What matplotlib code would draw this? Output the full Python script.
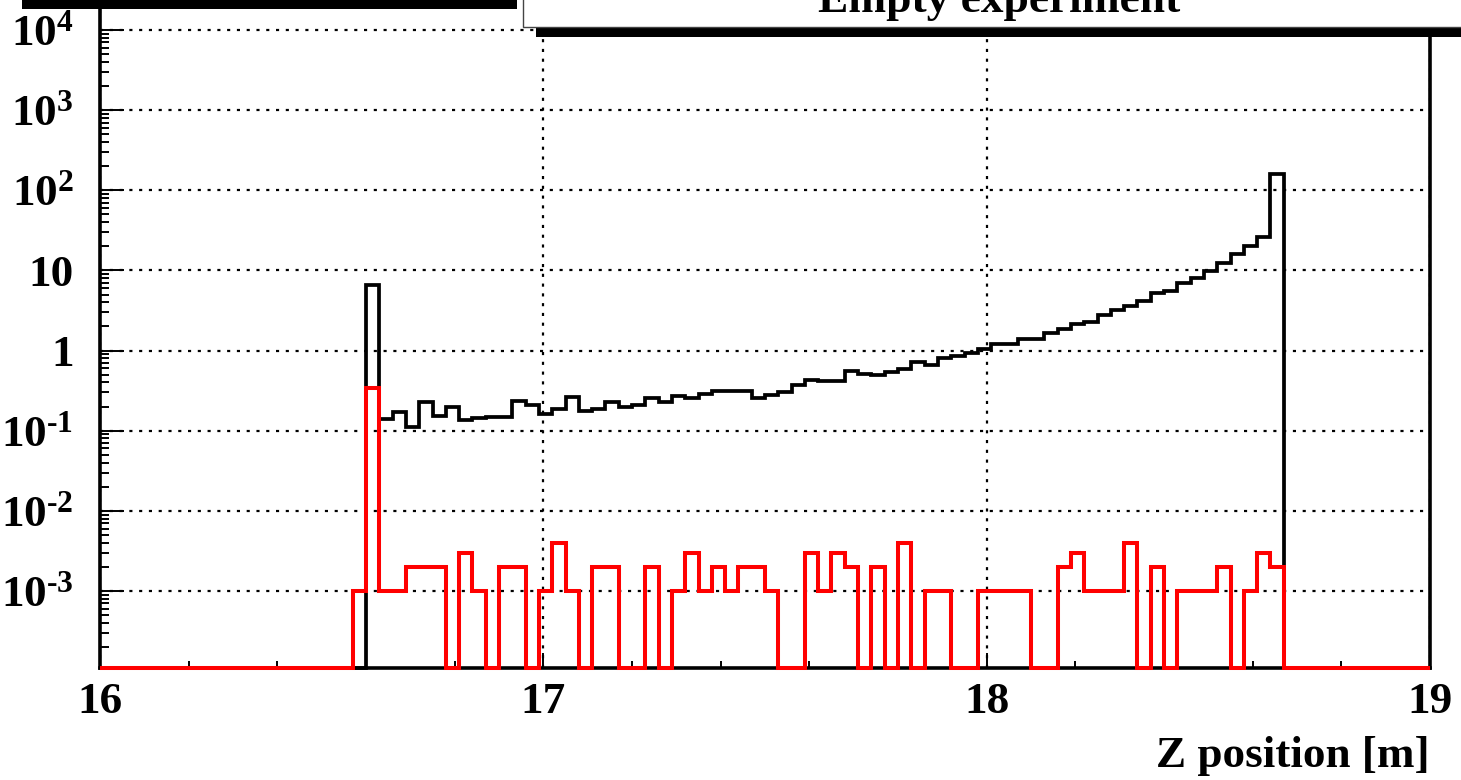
import numpy as np
import matplotlib
matplotlib.use('Agg')
import matplotlib.pyplot as plt
from matplotlib.patches import Rectangle
from matplotlib.ticker import FixedLocator, FixedFormatter, NullFormatter, MultipleLocator

# ---------------- data ----------------
x_min, x_max, n_bins = 16.0, 19.0, 100
# black histogram (all), bins of 0.03 m starting at 16.0
black_vals = [0.0] * 20 + [
    6.6, 0.138, 0.172, 0.110, 0.226, 0.151, 0.196, 0.135, 0.142, 0.147,
    0.147, 0.238, 0.208, 0.162, 0.187, 0.262, 0.175, 0.184, 0.226, 0.198,
    0.212, 0.254, 0.229, 0.269, 0.257, 0.290, 0.311, 0.311, 0.311, 0.257,
    0.275, 0.302, 0.376, 0.435, 0.422, 0.414, 0.563, 0.516, 0.502, 0.542,
    0.591, 0.715, 0.669, 0.810, 0.860, 0.930, 1.05, 1.22, 1.19, 1.41,
    1.41, 1.66, 1.88, 2.17, 2.30, 2.81, 3.18, 3.57, 4.12, 5.25,
    5.61, 7.00, 8.08, 9.96, 12.3, 16.1, 20.4, 26.0, 158.0] + [0.0] * 11
# red histogram in units of 1e-3
red_units = [0] * 19 + [
    1, 342, 1, 1, 2, 2, 2, 0, 3, 1,
    0, 2, 2, 0, 1, 4, 1, 0, 2, 2,
    0, 0, 2, 0, 1, 3, 1, 2, 1, 2,
    2, 1, 0, 0, 3, 1, 3, 2, 0, 2,
    0, 4, 0, 1, 1, 0, 0, 1, 1, 1,
    1, 0, 0, 2, 3, 1, 1, 1, 4, 0,
    2, 0, 1, 1, 1, 2, 0, 1, 3, 2] + [0] * 11
red_vals = [u * 1e-3 for u in red_units]

x_ticks = [16, 17, 18, 19]
x_tick_labels = ['16', '17', '18', '19']
y_ticks = [1e-3, 1e-2, 1e-1, 1, 10, 1e2, 1e3, 1e4]
y_tick_labels = [r'$10^{\text{-}3}$', r'$10^{\text{-}2}$', r'$10^{\text{-}1}$',
                 '1', '10', r'$10^{2}$', r'$10^{3}$', r'$10^{4}$']
title = 'Empty experiment'
x_label = 'Z position [m]'

# ---------------- style ----------------
plt.rcParams['font.family'] = ['Liberation Serif', 'DejaVu Serif']
plt.rcParams['font.weight'] = 'bold'
plt.rcParams['mathtext.fontset'] = 'custom'
plt.rcParams['mathtext.rm'] = 'Liberation Serif:bold'
plt.rcParams['mathtext.bf'] = 'Liberation Serif:bold'
plt.rcParams['mathtext.it'] = 'Liberation Serif:bold'
plt.rcParams['mathtext.default'] = 'regular'

W, H = 1461, 780
fig = plt.figure(figsize=(W / 100, H / 100), dpi=100)
fig.patch.set_facecolor('white')

y_lo = 10 ** (-3.961)
y_hi = 10 ** (4.374)

ax = fig.add_axes([100 / W, 112 / H, 1330 / W, 668 / H])
ax.set_yscale('log')
ax.set_xlim(x_min, x_max)
ax.set_ylim(y_lo, y_hi)

edges = np.linspace(x_min, x_max, n_bins + 1)
ax.stairs(np.maximum(np.array(black_vals), y_lo), edges, baseline=None,
          color='black', linewidth=2.7, clip_on=False, zorder=3)
ax.stairs(np.maximum(np.array(red_vals), y_lo), edges, baseline=None,
          color='#ff0000', linewidth=2.9, clip_on=False, zorder=4)

# ticks
ax.xaxis.set_major_locator(FixedLocator(x_ticks))
ax.xaxis.set_major_formatter(FixedFormatter(x_tick_labels))
ax.xaxis.set_minor_locator(MultipleLocator(0.2))
ax.yaxis.set_major_locator(FixedLocator(y_ticks))
ax.yaxis.set_major_formatter(FixedFormatter(y_tick_labels))
minor_y = [m * 10.0 ** e for e in range(-4, 5) for m in range(2, 10)]
ax.yaxis.set_minor_locator(FixedLocator(minor_y))
ax.yaxis.set_minor_formatter(NullFormatter())

ax.tick_params(which='both', direction='in', top=False, right=False,
               width=1.4, color='black', labelsize=32.5)
ax.tick_params(axis='x', which='major', length=11, pad=10)
ax.tick_params(axis='x', which='minor', length=5)
ax.tick_params(axis='y', which='major', length=17, pad=19)
ax.tick_params(axis='y', which='minor', length=6.5)

ax.grid(True, which='major', color='black', linestyle=(0, (1.4, 3.0)),
        linewidth=1.6, zorder=1)
ax.set_axisbelow(True)

for s in ['left', 'bottom', 'right']:
    ax.spines[s].set_linewidth(2.6)
    ax.spines[s].set_zorder(2.5)
ax.spines['top'].set_visible(False)

fig.text(1430 / W, 13 / H, x_label, ha='right', va='baseline',
         fontsize=32.5, fontweight='bold')

# overlay: title box with shadow and the shadow of a box above the canvas
ov = fig.add_axes([0, 0, 1, 1], zorder=10)
ov.set_xlim(0, W)
ov.set_ylim(H, 0)
ov.axis('off')
ov.patch.set_visible(False)
ov.add_patch(Rectangle((22, -5), 495, 14, facecolor='black', edgecolor='none'))
ov.add_patch(Rectangle((536, -60), 1000, 97.3, facecolor='black', edgecolor='none'))
ov.add_patch(Rectangle((523, -70), 1000, 97.3, facecolor='white',
                       edgecolor='#444444', linewidth=1.0))
ov.text(999, 12, title, ha='center', va='baseline', fontsize=32.7,
        fontweight='bold')

fig.savefig('out.png', dpi=100)
